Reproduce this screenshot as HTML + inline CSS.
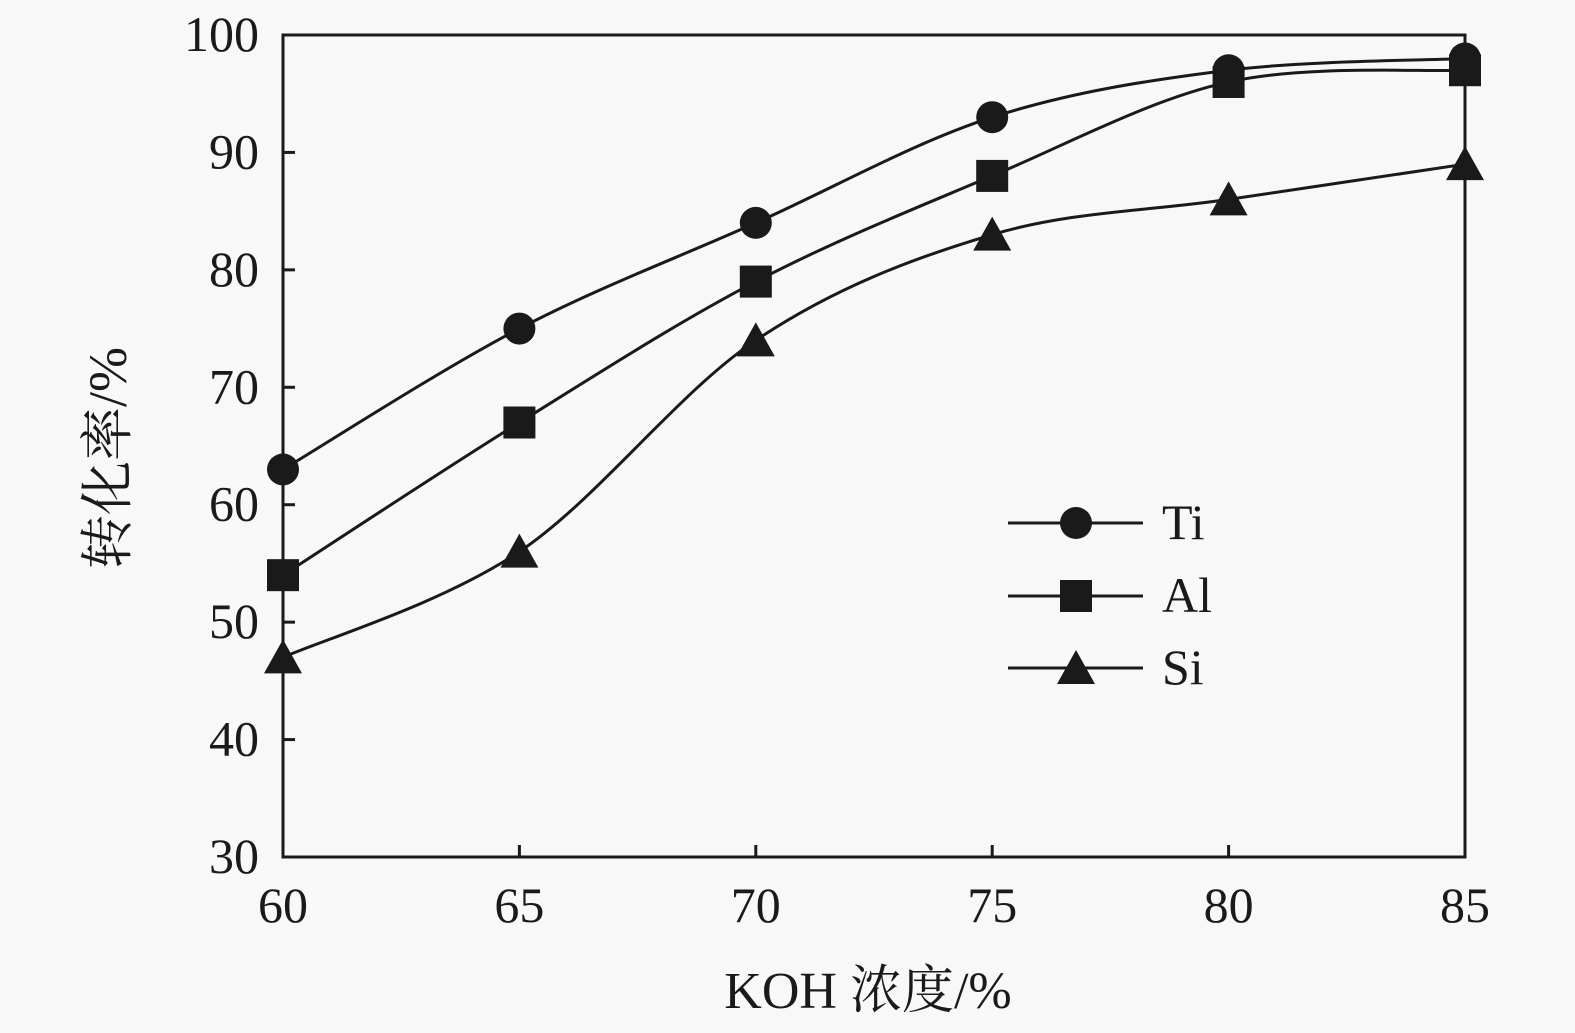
<!DOCTYPE html>
<html><head><meta charset="utf-8"><style>
html,body{margin:0;padding:0;background:#f8f8f8}
svg{display:block}
text{font-family:"Liberation Serif","Noto Serif CJK SC",serif;fill:#1a1a1a}
</style></head><body>
<svg id="s" width="1575" height="1033" viewBox="0 0 1575 1033">
<rect x="0" y="0" width="1575" height="1033" fill="#f8f8f8"/>
<g id="g"></g>
</svg>
<script>
var L=283,R=1465,T=35,B=857;
function X(v){return L+(v-60)*(R-L)/25}
function Y(v){return B-(v-30)*(B-T)/70}
var ns="http://www.w3.org/2000/svg",g=document.getElementById('g');
function el(n,a,t){var e=document.createElementNS(ns,n);for(var k in a)e.setAttribute(k,a[k]);if(t)e.textContent=t;g.appendChild(e);return e}
el('rect',{x:L,y:T,width:R-L,height:B-T,fill:'none',stroke:'#1a1a1a','stroke-width':3});
for(var v=30;v<=100;v+=10){var y=Y(v);el('line',{x1:L,y1:y,x2:L+12,y2:y,stroke:'#1a1a1a','stroke-width':3});
el('text',{x:259,y:y+16,'font-size':50,'text-anchor':'end'},v)}
for(var v=60;v<=85;v+=5){var x=X(v);el('line',{x1:x,y1:B,x2:x,y2:B-12,stroke:'#1a1a1a','stroke-width':3});
el('text',{x:x,y:922,'font-size':50,'text-anchor':'middle'},v)}
el('text',{x:868,y:1008,'font-size':52,'text-anchor':'middle'},'KOH 浓度/%');
el('text',{x:0,y:0,'font-size':54,'text-anchor':'middle',transform:'translate(126,458) rotate(-90)'},'转化率/%');
var xs=[60,65,70,75,80,85];
var D=[[63,75,84,93,97,98],[54,67,79,88,96,97],[47,56,74,83,86,89]];
function path(d){var p=xs.map(function(x,i){return [X(x),Y(d[i])]});var s='M'+p[0];
for(var i=0;i<p.length-1;i++){var p0=p[i-1]||p[i],p1=p[i],p2=p[i+1],p3=p[i+2]||p[i+1];
var c1=[p1[0]+(p2[0]-p0[0])/6,p1[1]+(p2[1]-p0[1])/6],c2=[p2[0]-(p3[0]-p1[0])/6,p2[1]-(p3[1]-p1[1])/6];
s+='C'+c1+' '+c2+' '+p2}return s}
function mk(k,x,y){if(k==0)el('circle',{cx:x,cy:y,r:16,fill:'#1a1a1a'});
else if(k==1)el('rect',{x:x-16,y:y-16,width:32,height:32,fill:'#1a1a1a'});
else el('polygon',{points:(x-19)+','+(y+16)+' '+(x+19)+','+(y+16)+' '+x+','+(y-18),fill:'#1a1a1a'})}
D.forEach(function(d,k){el('path',{d:path(d),fill:'none',stroke:'#1a1a1a','stroke-width':3});
xs.forEach(function(x,i){mk(k,X(x),Y(d[i]))})});
var ly=[523,596,668],nm=['Ti','Al','Si'];
for(var k=0;k<3;k++){el('line',{x1:1008,y1:ly[k],x2:1143,y2:ly[k],stroke:'#1a1a1a','stroke-width':3});mk(k,1076,ly[k]);
el('text',{x:1162,y:ly[k]+16,'font-size':50},nm[k])}
</script>
</body></html>
